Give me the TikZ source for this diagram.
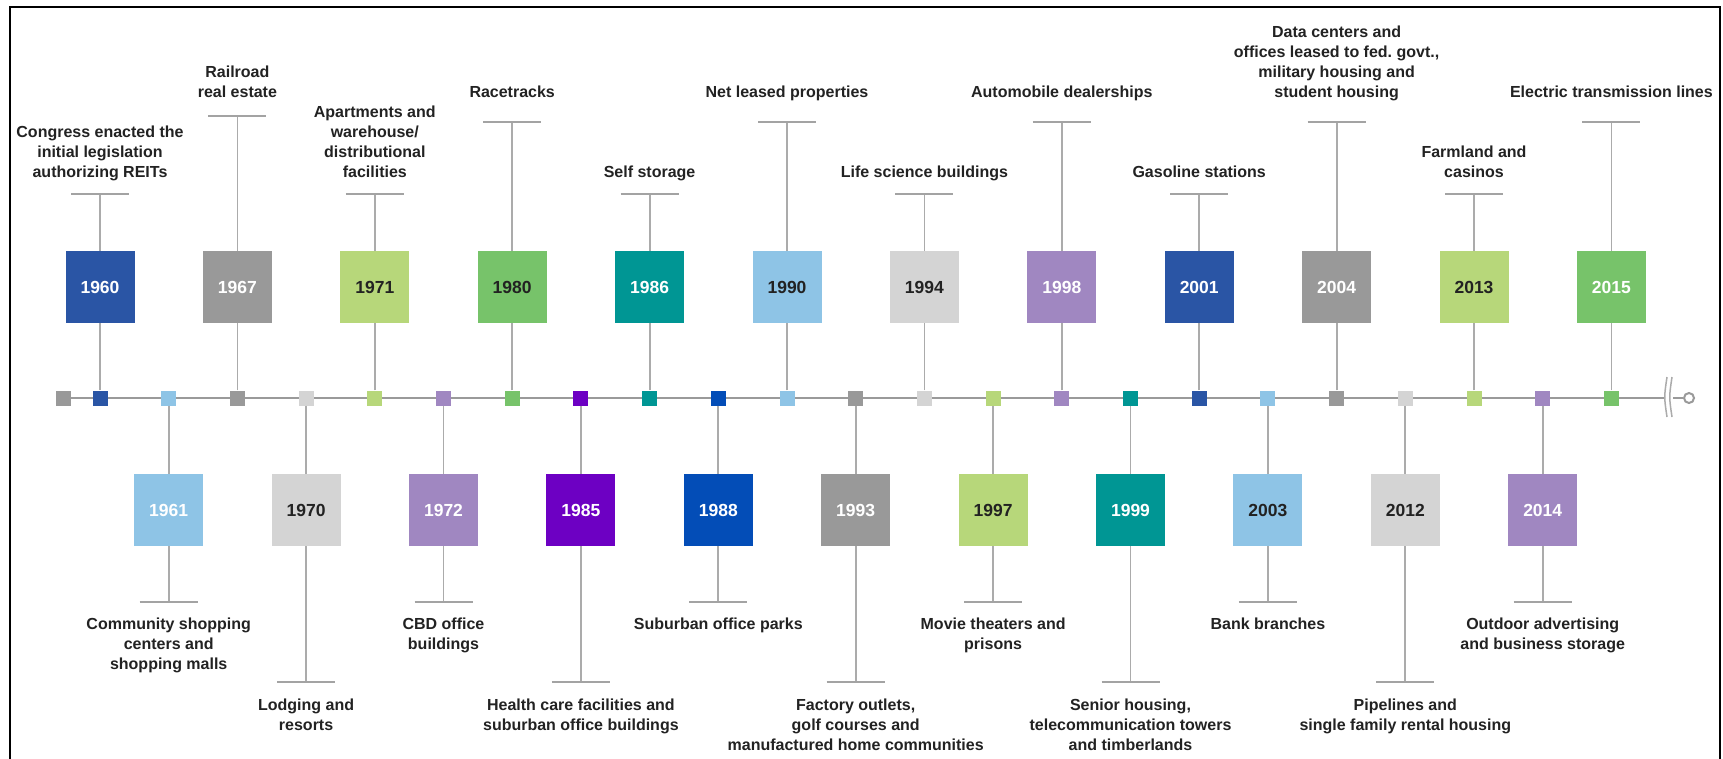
\documentclass[tikz,border=0pt]{standalone}
\usepackage{fontspec}
\setmainfont{Liberation Sans}
\frenchspacing
\definecolor{cDarkBlue}{HTML}{2A55A5}
\definecolor{cLightBlue}{HTML}{8EC4E6}
\definecolor{cGray}{HTML}{999999}
\definecolor{cLightGray}{HTML}{D4D4D4}
\definecolor{cLightGreen}{HTML}{B7D77A}
\definecolor{cLavender}{HTML}{A087C1}
\definecolor{cGreen}{HTML}{77C36A}
\definecolor{cPurple}{HTML}{6D00C3}
\definecolor{cTeal}{HTML}{009694}
\definecolor{cBlue}{HTML}{034DB7}
\definecolor{txt}{HTML}{222222}
\definecolor{stemgray}{HTML}{ABABAB}
\definecolor{tickgray}{HTML}{A3A3A3}
\definecolor{axisgray}{HTML}{9A9A9A}
\newcommand\EvTop[7]{%
  \pgfmathsetmacro\ex{100+68.7*#1}
  \node[mk, fill=#2] (m#1) at (\ex,398) {};
  \node[yearbox, fill=#2, text=#3] (b#1) at (\ex,287) {#4};
  \coordinate (t#1) at (\ex,#5);
  \draw[stem] (m#1.north) -- (b#1.south) (b#1.north) -- (t#1);
  \draw[tickbar] ([xshift=-29pt]t#1) -- ([xshift=29pt]t#1);
  \node[lbl, anchor=south] (l#1) at (\ex,#6) {#7\strut};
}
\newcommand\EvBot[7]{%
  \pgfmathsetmacro\ex{100+68.7*#1}
  \node[mk, fill=#2] (m#1) at (\ex,398) {};
  \node[yearbox, fill=#2, text=#3] (b#1) at (\ex,510) {#4};
  \coordinate (t#1) at (\ex,#5);
  \draw[stem] (m#1.south) -- (b#1.north) (b#1.south) -- (t#1);
  \draw[tickbar] ([xshift=-29pt]t#1) -- ([xshift=29pt]t#1);
  \node[lbl, anchor=north] (l#1) at (\ex,#6) {\strut #7};
}
\begin{document}
\begin{tikzpicture}[x=1pt,y=-1pt,
  yearbox/.style={minimum width=69pt, minimum height=72pt, inner sep=0pt, font=\fontsize{17.5}{20}\selectfont\bfseries},
  mk/.style={minimum size=15pt, inner sep=0pt},
  lbl/.style={align=center, inner sep=0pt, text=txt, font=\fontsize{16}{20}\selectfont\bfseries},
  stem/.style={draw=stemgray, line width=1.8pt},
  tickbar/.style={draw=tickgray, line width=2.5pt},
  axis/.style={draw=axisgray, line width=2.7pt},
  brk/.style={draw=stemgray, line width=1.5pt},
]
\useasboundingbox (0,0) rectangle (1723,758);
\fill[white] (0,0) rectangle (1723,758);
\draw[line width=2pt, black] (10,760) -- (10,7) -- (1720,7) -- (1720,760);

% axis
\node[mk, fill=cGray] (mlead) at (63,398) {};
\coordinate (brkL) at (1664,398);
\coordinate (brkR) at (1673,398);
\node[circle, draw=axisgray, fill=white, line width=2pt, minimum size=10pt, inner sep=0pt] (endc) at (1689,398) {};
\draw[axis] (mlead) -- (brkL);
\draw[axis] (brkR) -- (endc);
\draw[brk] (1667,377) .. controls (1664,397) .. (1667,417);
\draw[brk] (1672,377) .. controls (1669,397) .. (1672,417);

% top events
\EvTop{0}{cDarkBlue}{white}{1960}{194}{184}{Congress enacted the\\initial legislation\\authorizing REITs}
\EvTop{2}{cGray}{white}{1967}{116}{104}{Railroad\\real estate}
\EvTop{4}{cLightGreen}{txt}{1971}{194}{184}{Apartments and\\warehouse/\\distributional\\facilities}
\EvTop{6}{cGreen}{txt}{1980}{122}{104}{Racetracks}
\EvTop{8}{cTeal}{white}{1986}{194}{184}{Self storage}
\EvTop{10}{cLightBlue}{txt}{1990}{122}{104}{Net leased properties}
\EvTop{12}{cLightGray}{txt}{1994}{194}{184}{Life science buildings}
\EvTop{14}{cLavender}{white}{1998}{122}{104}{Automobile dealerships}
\EvTop{16}{cDarkBlue}{white}{2001}{194}{184}{Gasoline stations}
\EvTop{18}{cGray}{white}{2004}{122}{104}{Data centers and\\offices leased to fed. govt.,\\military housing and\\student housing}
\EvTop{20}{cLightGreen}{txt}{2013}{194}{184}{Farmland and\\casinos}
\EvTop{22}{cGreen}{white}{2015}{122}{104}{Electric transmission lines}

% bottom events
\EvBot{1}{cLightBlue}{white}{1961}{602}{615}{Community shopping\\centers and\\shopping malls}
\EvBot{3}{cLightGray}{txt}{1970}{682}{696}{Lodging and\\resorts}
\EvBot{5}{cLavender}{white}{1972}{602}{615}{CBD office\\buildings}
\EvBot{7}{cPurple}{white}{1985}{682}{696}{Health care facilities and\\suburban office buildings}
\EvBot{9}{cBlue}{white}{1988}{602}{615}{Suburban office parks}
\EvBot{11}{cGray}{white}{1993}{682}{696}{Factory outlets,\\golf courses and\\manufactured home communities}
\EvBot{13}{cLightGreen}{txt}{1997}{602}{615}{Movie theaters and\\prisons}
\EvBot{15}{cTeal}{white}{1999}{682}{696}{Senior housing,\\telecommunication towers\\and timberlands}
\EvBot{17}{cLightBlue}{txt}{2003}{602}{615}{Bank branches}
\EvBot{19}{cLightGray}{txt}{2012}{682}{696}{Pipelines and\\single family rental housing}
\EvBot{21}{cLavender}{white}{2014}{602}{615}{Outdoor advertising\\and business storage}
\end{tikzpicture}
\end{document}
